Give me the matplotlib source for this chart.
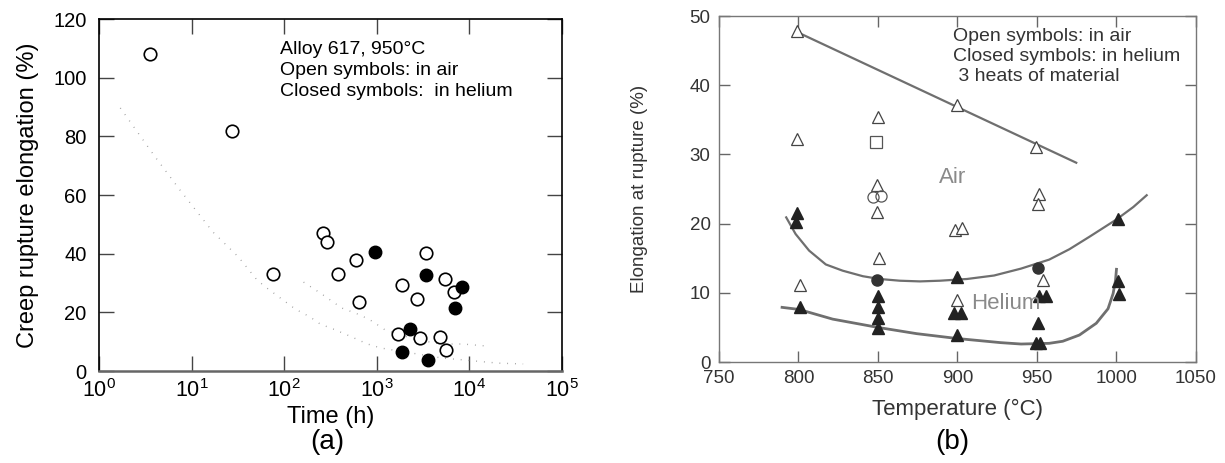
import numpy as np
import matplotlib
matplotlib.use('Agg')
import matplotlib.pyplot as plt

plt.rcParams['font.family'] = ['Liberation Sans', 'DejaVu Sans']
plt.rcParams['mathtext.default'] = 'regular'

# ---- panel (a): creep rupture elongation vs time, Alloy 617 at 950 C ----
air_time = [3.6, 27, 76, 265, 290, 385, 590, 645, 1885, 2690, 3390, 5500, 6870, 1680, 2950, 4800, 5600]
air_elong = [108, 81.7, 33.2, 46.9, 44.0, 33.0, 37.8, 23.7, 29.2, 24.7, 40.2, 31.3, 27.0, 12.5, 11.4, 11.7, 7.1]
he_time = [948, 3390, 8220, 7000, 2255, 1850, 3610]
he_elong = [40.7, 32.8, 28.8, 21.6, 14.2, 6.6, 3.6]

# dotted trend lines
dot1_time = [1.7, 4.0, 7.5, 17, 32, 51, 65, 132, 191, 245, 339, 479, 794, 1122, 5130, 8510, 20000, 38000]
dot1_elong = [89.7, 73.2, 61.7, 47.4, 38.9, 31.0, 28.3, 21.1, 18.4, 16.0, 14.3, 12.3, 9.2, 7.8, 4.4, 3.8, 2.7, 2.4]
dot2_time = [162, 245, 417, 661, 891, 1230, 2690, 5130, 8510, 15500]
dot2_elong = [30.3, 26.6, 21.5, 19.1, 17.0, 14.0, 10.6, 9.2, 9.2, 8.5]

# ---- panel (b): elongation at rupture vs temperature ----
air_tri_T = [799, 799, 801, 850, 849.5, 849.5, 850.5, 900, 898.5, 903, 899.5, 949.5, 951.5, 950.5, 954]
air_tri_e = [47.8, 32.2, 11.1, 35.4, 25.6, 21.7, 15.1, 37.2, 19.1, 19.4, 8.9, 31.0, 24.3, 22.8, 11.8]
air_sq_T = [849]
air_sq_e = [31.8]
air_circ_T = [846.6, 852.1]
air_circ_e = [23.8, 24.0]
he_tri_T = [799, 798.6, 801, 850.3, 850.3, 850.3, 850.3, 900, 897.7, 902, 900,
            950.6, 951.4, 955.7, 949.6, 952, 1000.8, 1000.8, 1001.6]
he_tri_e = [21.6, 20.2, 8.0, 9.6, 8.0, 6.4, 4.9, 12.3, 7.1, 7.1, 3.9,
            5.7, 9.6, 9.6, 2.7, 2.7, 20.7, 11.7, 9.8]
he_circ_T = [849.3, 950.6]
he_circ_e = [11.8, 13.6]

# trend lines drawn in the original
line_air_T = [799, 974.7]
line_air_e = [47.7, 28.8]
curve_mid_T = [792.3, 798.2, 806.7, 817.2, 827.8, 840.5, 851, 863.7, 876.4, 889, 906, 923, 940,
               957.7, 970.4, 983, 1000, 1010.6, 1019]
curve_mid_e = [20.9, 18.5, 16.1, 14.1, 13.2, 12.4, 12.0, 11.75, 11.65, 11.75, 12.0, 12.5, 13.5,
               14.8, 16.3, 18.1, 20.6, 22.4, 24.1]
curve_low_T = [789.7, 800.3, 821.5, 850, 874.3, 899.7, 927.2, 940, 957.7, 966.2, 976.7,
               987.3, 994.7, 997.9, 999.4, 1000]
curve_low_e = [7.9, 7.6, 6.2, 5.0, 4.1, 3.4, 2.8, 2.6, 2.7, 3.0, 3.9,
               5.6, 7.7, 9.9, 11.8, 13.4]

fig = plt.figure(figsize=(12.25, 4.63), dpi=100)

# ================= (a) =================
ax1 = fig.add_axes([0.0808, 0.1987, 0.378, 0.760])
ax1.plot(dot1_time, dot1_elong, linestyle=(0, (0.6, 5)), color='#999999', linewidth=1.0)
ax1.plot(dot2_time, dot2_elong, linestyle=(0, (0.6, 5)), color='#999999', linewidth=1.0)
ax1.plot(air_time, air_elong, 'o', markersize=9, markerfacecolor='white',
         markeredgecolor='black', markeredgewidth=1.2, linestyle='none')
ax1.plot(he_time, he_elong, 'o', markersize=9, markerfacecolor='black',
         markeredgecolor='black', linestyle='none')

ax1.set_xscale('log')
ax1.set_xlim(1, 1e5)
ax1.set_ylim(0, 120)
ax1.set_xticks([1, 10, 100, 1000, 1e4, 1e5])
ax1.set_xticklabels(['$10^{0}$', '$10^{1}$', '$10^{2}$', '$10^{3}$', '$10^{4}$', '$10^{5}$'])
ax1.set_yticks(range(0, 121, 20))
ax1.minorticks_off()
ax1.tick_params(direction='in', top=True, right=True, length=11, width=1.0,
                labelsize=14.5, pad=7, color='#444444')
ax1.tick_params(axis='x', labelsize=15.5, pad=6)
ax1.tick_params(axis='y', pad=9)
ax1.set_xlabel('Time (h)', fontsize=17, labelpad=3)
ax1.set_ylabel('Creep rupture elongation (%)', fontsize=17, labelpad=10)
for s in ax1.spines.values():
    s.set_linewidth(1.2)
ax1.spines['bottom'].set_color('#666666')
ax1.spines['bottom'].set_linewidth(1.8)

ax1.text(89, 109.5, 'Alloy 617, 950°C', fontsize=14, va='center')
ax1.text(89, 102.4, 'Open symbols: in air', fontsize=14, va='center')
ax1.text(89, 95.3, 'Closed symbols:  in helium', fontsize=14, va='center')

# ================= (b) =================
grey_txt = '#333333'
ax2 = fig.add_axes([0.5869, 0.2181, 0.3894, 0.7473])
ax2.plot(line_air_T, line_air_e, color='#6f6f6f', linewidth=1.6)
ax2.plot(curve_mid_T, curve_mid_e, color='#6f6f6f', linewidth=1.6)
ax2.plot(curve_low_T, curve_low_e, color='#6f6f6f', linewidth=2.0)

ax2.plot(air_tri_T, air_tri_e, '^', markersize=8, markerfacecolor='white',
         markeredgecolor='#444444', markeredgewidth=0.9, linestyle='none')
ax2.plot(air_sq_T, air_sq_e, 's', markersize=8, markerfacecolor='white',
         markeredgecolor='#555555', markeredgewidth=0.9, linestyle='none')
ax2.plot(air_circ_T, air_circ_e, 'o', markersize=8, markerfacecolor='none',
         markeredgecolor='#555555', markeredgewidth=0.9, linestyle='none')
ax2.plot(he_tri_T, he_tri_e, '^', markersize=8, markerfacecolor='#222222',
         markeredgecolor='#222222', linestyle='none')
ax2.plot(he_circ_T, he_circ_e, 'o', markersize=8, markerfacecolor='#333333',
         markeredgecolor='#333333', linestyle='none')

ax2.set_xlim(750, 1050)
ax2.set_ylim(0, 50)
ax2.set_xticks(range(750, 1051, 50))
ax2.set_yticks(range(0, 51, 10))
ax2.tick_params(direction='in', top=True, right=True, length=8, width=1.0,
                labelsize=13.5, pad=6, color='#666666', labelcolor=grey_txt)
ax2.set_xlabel('Temperature (°C)', fontsize=16, color=grey_txt, labelpad=8)
ax2.set_ylabel('Elongation at rupture (%)', fontsize=13.5, color=grey_txt, labelpad=30)
for s in ax2.spines.values():
    s.set_color('#777777')
    s.set_linewidth(1.0)

ax2.text(897, 47.1, 'Open symbols: in air', fontsize=14, color=grey_txt, va='center')
ax2.text(897, 44.2, 'Closed symbols: in helium', fontsize=14, color=grey_txt, va='center')
ax2.text(897, 41.2, ' 3 heats of material', fontsize=14, color=grey_txt, va='center')
ax2.text(888.5, 26.6, 'Air', fontsize=16, color='#8a8a8a', va='center')
ax2.text(908.5, 8.5, 'Helium', fontsize=16, color='#8a8a8a', va='center')

# sub-figure labels
fig.text(0.267, 0.046, '(a)', fontsize=20, ha='center', va='center')
fig.text(0.777, 0.046, '(b)', fontsize=20, ha='center', va='center')

fig.savefig('out.png', dpi=100)
